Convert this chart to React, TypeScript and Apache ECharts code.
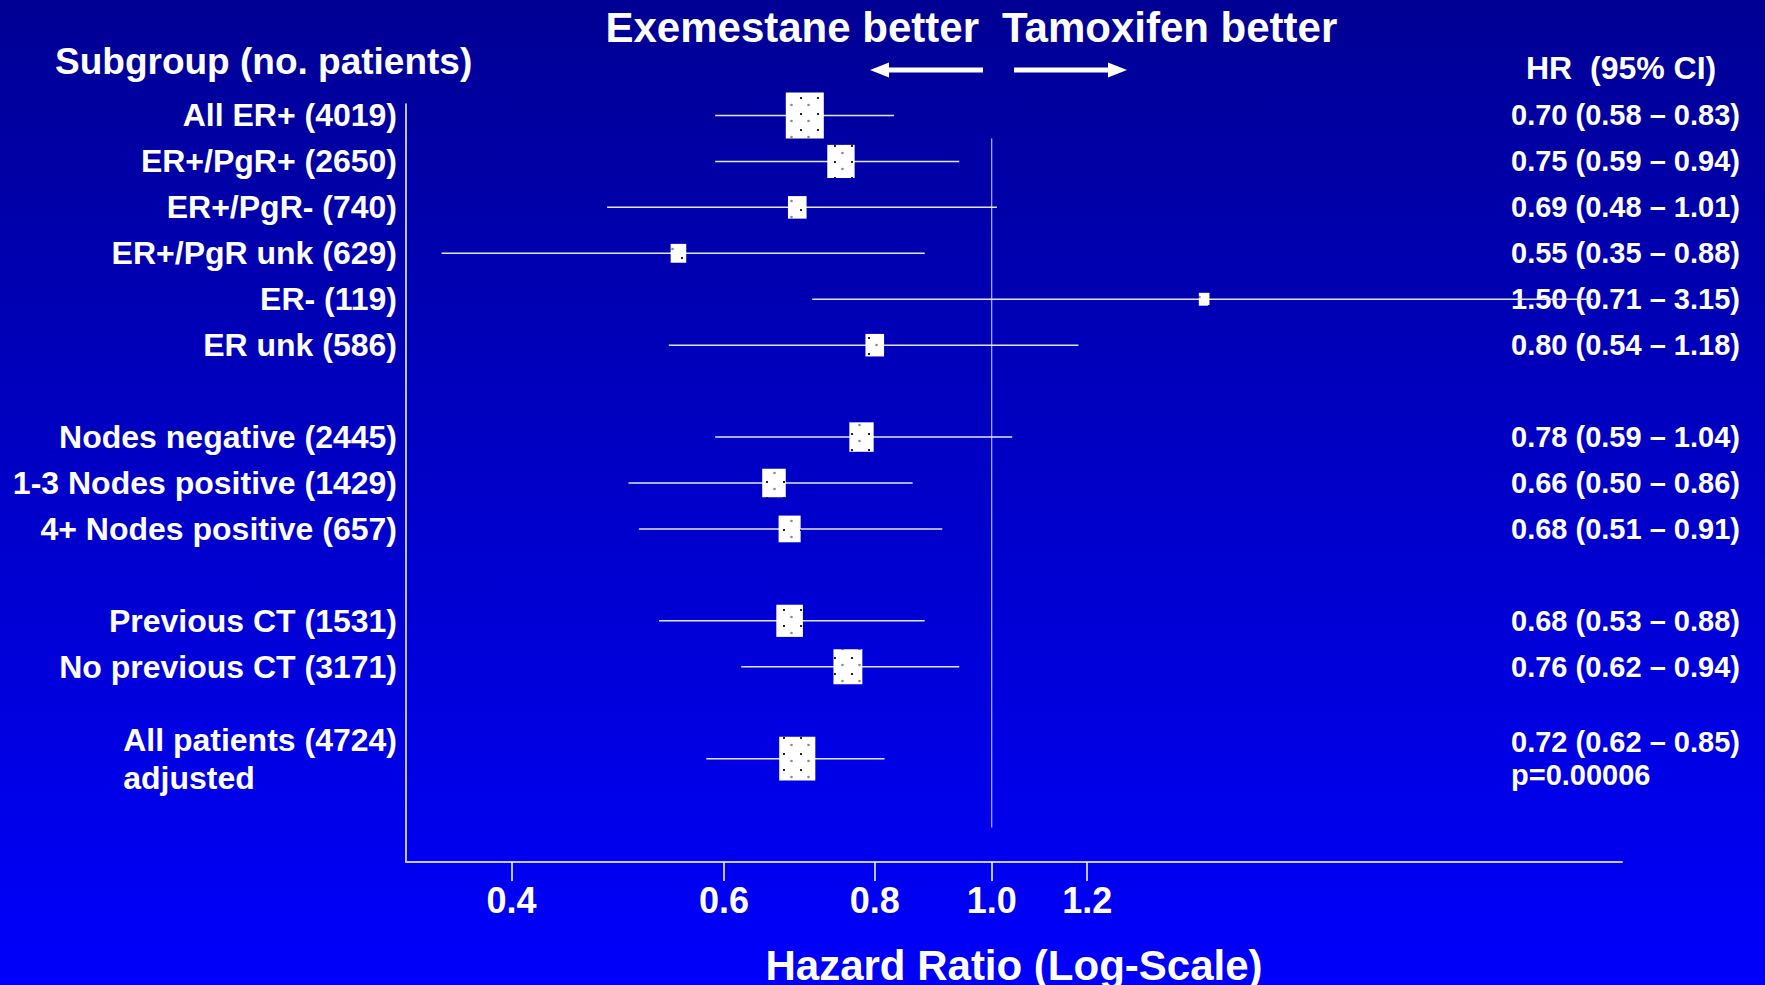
import React, { useEffect, useRef } from "react";
import * as echarts from "echarts";

// ---------- data ----------
const subgroups = [
  "All ER+ (4019)",
  "ER+/PgR+ (2650)",
  "ER+/PgR- (740)",
  "ER+/PgR unk (629)",
  "ER- (119)",
  "ER unk (586)",
  "Nodes negative (2445)",
  "1-3 Nodes positive (1429)",
  "4+ Nodes positive (657)",
  "Previous CT (1531)",
  "No previous CT (3171)",
  "All patients (4724)\nadjusted",
];
const groupOf = [0, 0, 0, 0, 0, 0, 1, 1, 1, 2, 2, 3];
// printed estimates (right-hand column)
const hrText = [
  "0.70 (0.58 \u2013 0.83)",
  "0.75 (0.59 \u2013 0.94)",
  "0.69 (0.48 \u2013 1.01)",
  "0.55 (0.35 \u2013 0.88)",
  "1.50 (0.71 \u2013 3.15)",
  "0.80 (0.54 \u2013 1.18)",
  "0.78 (0.59 \u2013 1.04)",
  "0.66 (0.50 \u2013 0.86)",
  "0.68 (0.51 \u2013 0.91)",
  "0.68 (0.53 \u2013 0.88)",
  "0.76 (0.62 \u2013 0.94)",
  "0.72 (0.62 \u2013 0.85)\np=0.00006",
];
// plotted estimates (as drawn in the figure)
const hr = [0.70, 0.75, 0.69, 0.55, 1.50, 0.80, 0.78, 0.66, 0.68, 0.68, 0.76, 0.69];
const ciLow = [0.59, 0.59, 0.48, 0.35, 0.71, 0.54, 0.59, 0.50, 0.51, 0.53, 0.62, 0.58];
const ciHigh = [0.83, 0.94, 1.01, 0.88, 3.15, 1.18, 1.04, 0.86, 0.91, 0.88, 0.94, 0.815];
// relative weight of each estimate (box size)
const weight = [1.0, 0.72, 0.49, 0.41, 0.28, 0.49, 0.64, 0.62, 0.58, 0.7, 0.76, 0.95];
const xTicks = [0.4, 0.6, 0.8, 1.0, 1.2];
const refHR = 1.0;
const xRange = [0.327, 3.33];

// ---------- layout helpers ----------
const FONT = "'Liberation Sans', Arial, Helvetica, sans-serif";
const SLOTS_PER_ROW = 2;
const GAP_SLOTS = 2;
const TOTAL_SLOTS = 33;
const BOX_W = 38;
const BOX_H = 46;

const rowSlot: number[] = [];
{
  let s = 0;
  for (let i = 0; i < subgroups.length; i++) {
    if (i > 0 && groupOf[i] !== groupOf[i - 1]) s += GAP_SLOTS;
    rowSlot.push(s);
    s += SLOTS_PER_ROW;
  }
}
const leftCats: string[] = new Array(TOTAL_SLOTS).fill("");
const rightCats: string[] = new Array(TOTAL_SLOTS).fill("");
subgroups.forEach((g, i) => {
  leftCats[rowSlot[i]] = g;
  rightCats[rowSlot[i]] = hrText[i];
});

function makePattern() {
  const c = document.createElement("canvas");
  c.width = 17;
  c.height = 16;
  const ctx = c.getContext("2d")!;
  ctx.fillStyle = "#ffffff";
  ctx.fillRect(0, 0, 17, 16);
  ctx.fillStyle = "#222222";
  ctx.fillRect(1, 1, 2, 2);
  ctx.fillStyle = "#8a8a8a";
  ctx.beginPath();
  ctx.arc(9.5, 9, 1.3, 0, Math.PI * 2);
  ctx.fill();
  return { image: c, repeat: "repeat", imageWidth: 17, imageHeight: 16 } as any;
}

export default function App() {
  const ref = useRef<HTMLDivElement>(null);

  useEffect(() => {
    if (!ref.current) return;
    const chart = echarts.init(ref.current, undefined, { renderer: "svg" });
    const pattern = makePattern();

    const rows = subgroups.map((_, i) => [
      Math.log(hr[i]),
      rowSlot[i],
      Math.log(ciLow[i]),
      Math.log(ciHigh[i]),
      weight[i],
    ]);

    const white = "#ffffff";
    const option: any = {
      animation: false,
      backgroundColor: "transparent",
      textStyle: { fontFamily: FONT },
      grid: {
        left: 406,
        right: 143,
        top: 104,
        bottom: 123,
        containLabel: false,
        outerBoundsMode: "none",
      },
      xAxis: {
        type: "value",
        min: Math.log(xRange[0]),
        max: Math.log(xRange[1]),
        splitLine: { show: false },
        axisLine: { show: true, onZero: false, lineStyle: { color: "#c4c4ff", width: 2 } },
        axisTick: {
          show: true,
          customValues: xTicks.map((v) => Math.log(v)),
          length: 19,
          lineStyle: { color: white, width: 1.5 },
        },
        axisLabel: {
          customValues: xTicks.map((v) => Math.log(v)),
          formatter: (v: number) => Math.exp(v).toFixed(1),
          color: white,
          fontSize: 36,
          fontWeight: "bold",
          fontFamily: FONT,
          margin: 20,
        },
        name: "Hazard Ratio (Log-Scale)",
        nameLocation: "middle",
        nameGap: 82,
        nameTextStyle: { color: white, fontSize: 42, fontWeight: "bold", fontFamily: FONT },
      },
      yAxis: [
        {
          type: "category",
          inverse: true,
          data: leftCats,
          axisLine: { show: true, onZero: false, lineStyle: { color: white, width: 1.5 } },
          axisTick: { show: false },
          splitLine: { show: false },
          axisLabel: {
            interval: 0,
            color: white,
            fontSize: 32,
            fontWeight: "bold",
            fontFamily: FONT,
            margin: 9,
            lineHeight: 38,
            formatter: (v: string) => {
              if (!v) return "";
              const parts = v.split("\n");
              if (parts.length > 1) return parts[0] + "\n{l|" + parts[1] + "}";
              return v;
            },
            rich: {
              l: {
                align: "left",
                color: white,
                fontSize: 32,
                fontWeight: "bold",
                fontFamily: FONT,
                lineHeight: 38,
              },
            },
          },
        },
        {
          type: "category",
          inverse: true,
          position: "right",
          offset: -111,
          data: rightCats,
          axisLine: { show: false, onZero: false },
          axisTick: { show: false },
          splitLine: { show: false },
          axisLabel: {
            interval: 0,
            color: white,
            fontSize: 29,
            fontWeight: "bold",
            fontFamily: FONT,
            margin: 0,
            lineHeight: 33,
            align: "left",
          },
        },
      ],
      series: [
        {
          type: "line",
          silent: true,
          symbol: "none",
          xAxisIndex: 0,
          yAxisIndex: 0,
          data: [
            [Math.log(refHR), 1],
            [Math.log(refHR), TOTAL_SLOTS - 2],
          ],
          lineStyle: { color: "#b4b4ff", width: 1.2 },
          z: 1,
        },
        {
          type: "custom",
          xAxisIndex: 0,
          yAxisIndex: 0,
          silent: true,
          data: rows,
          encode: { x: 0, y: 1 },
          renderItem: (params: any, api: any) => {
            const y = api.value(1);
            const c = api.coord([api.value(0), y]);
            const lo = api.coord([api.value(2), y]);
            const hi = api.coord([api.value(3), y]);
            const w = api.value(4) * BOX_W;
            const h = api.value(4) * BOX_H;
            return {
              type: "group",
              children: [
                {
                  type: "line",
                  shape: { x1: lo[0], y1: lo[1], x2: hi[0], y2: hi[1] },
                  style: { stroke: "#e4e4ff", lineWidth: 1.5 },
                },
                {
                  type: "rect",
                  shape: { x: c[0] - w / 2, y: c[1] - h / 2, width: w, height: h },
                  style: { fill: pattern },
                },
              ],
            };
          },
          z: 3,
        },
      ],
      graphic: [
        {
          type: "text",
          x: 979,
          y: 27,
          style: {
            text: "Exemestane better",
            fill: white,
            font: `bold 42px ${FONT}`,
            align: "right",
            verticalAlign: "middle",
          },
        },
        {
          type: "text",
          x: 1002,
          y: 27,
          style: {
            text: "Tamoxifen better",
            fill: white,
            font: `bold 42px ${FONT}`,
            align: "left",
            verticalAlign: "middle",
          },
        },
        // left arrow
        { type: "rect", shape: { x: 886, y: 67.5, width: 97, height: 5 }, style: { fill: white } },
        {
          type: "polygon",
          shape: { points: [[870, 70], [889, 62.5], [889, 77.5]] },
          style: { fill: white },
        },
        // right arrow
        { type: "rect", shape: { x: 1014, y: 67.5, width: 97, height: 5 }, style: { fill: white } },
        {
          type: "polygon",
          shape: { points: [[1127, 70], [1108, 62.5], [1108, 77.5]] },
          style: { fill: white },
        },
        {
          type: "text",
          x: 55,
          y: 61,
          style: {
            text: "Subgroup (no. patients)",
            fill: white,
            font: `bold 37px ${FONT}`,
            align: "left",
            verticalAlign: "middle",
          },
        },
        {
          type: "text",
          x: 1526,
          y: 68,
          style: {
            text: "HR  (95% CI)",
            fill: white,
            font: `bold 32px ${FONT}`,
            align: "left",
            verticalAlign: "middle",
          },
        },
      ],
    };

    chart.setOption(option);
    return () => chart.dispose();
  }, []);

  return (
    <div
      style={{
        position: "fixed",
        left: 0,
        top: 0,
        width: 1765,
        height: 985,
        background: "linear-gradient(180deg, #000094 0%, #0000FC 100%)",
      }}
    >
      <div ref={ref} style={{ width: 1765, height: 985 }} />
    </div>
  );
}
